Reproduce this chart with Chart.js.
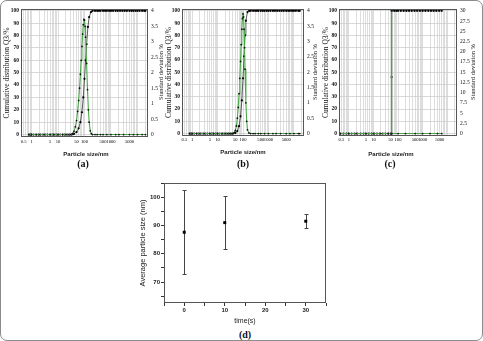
<!DOCTYPE html>
<html><head><meta charset="utf-8">
<script src="https://cdn.jsdelivr.net/npm/chart.js@4.4.0/dist/chart.umd.min.js"></script>
<style>
html,body{margin:0;padding:0;background:#fff;}
#fig{position:relative;width:483px;height:341px;overflow:hidden;background:#fff;}
#frame{position:absolute;left:0;top:0;width:481px;height:339px;border:1px solid #8c8c8c;border-radius:7px;}
canvas{position:absolute;}
.lbl{position:absolute;font-family:"Liberation Serif",serif;font-weight:bold;font-size:10px;line-height:10px;transform:translate(-50%,-50%);white-space:nowrap;color:#111;}
.xt{position:absolute;font-family:"Liberation Sans",sans-serif;font-weight:bold;font-size:6px;line-height:6px;transform:translate(-50%,-50%);white-space:nowrap;color:#222;}
.rt{position:absolute;font-family:"Liberation Serif",serif;font-size:6.5px;line-height:6.5px;transform:translate(-50%,-50%) rotate(-90deg);white-space:nowrap;color:#222;}
</style></head><body>
<div id="fig">
<div id="frame"></div>
<canvas id="ca" width="165" height="158" style="left:0px;top:0px"></canvas>
<canvas id="cb" width="154" height="158" style="left:165px;top:0px"></canvas>
<canvas id="cc" width="156" height="158" style="left:321px;top:0px"></canvas>
<canvas id="cd" width="216" height="149" style="left:134px;top:176px"></canvas>
<div class="rt" style="left:161px;top:72px">Standard deviation %</div>
<div class="rt" style="left:315px;top:72px">Standard deviation %</div>
<div class="rt" style="left:473px;top:72px">Standard deviation %</div>
<div class="xt" style="left:86px;top:154px">Particle size/nm</div>
<div class="xt" style="left:243px;top:152px">Particle size/nm</div>
<div class="xt" style="left:391px;top:154px">Particle size/nm</div>
<div class="lbl" style="left:83px;top:164px">(a)</div>
<div class="lbl" style="left:243px;top:164px">(b)</div>
<div class="lbl" style="left:390px;top:164px">(c)</div>
<div class="lbl" style="left:245px;top:335px">(d)</div>
</div>
<script>
// ---- tick labels ----
const xTickLabels = [0.5, 1, 5, 10, 50, 100, 500, 1000, 5000];
const leftTicks = [0, 10, 20, 30, 40, 50, 60, 70, 80, 90, 100];
const rightTicksAB = [0, 0.5, 1, 1.5, 2, 2.5, 3, 3.5, 4];
const rightTicksC = [0, 2.5, 5, 7.5, 10, 12.5, 15, 17.5, 20, 22.5, 25, 27.5, 30];

// ---- panel (a) ----
const aCumSizes = [0.8,0.9,1,1.2,1.5,1.8,2.2,2.7,3.3,4,5,6,7,8.5,10,12,15,18,22,27,33,40,
  50,60,70,80,90,100,110,120,135,150,175,
  200,250,300,350,400,500,600,700,850,1000,1200,1500,1800,2200,2700,3300,4000,5000,6000,7000,8500,10000,12000,15000,18000,20000];
const aCumValues = [0,0,0,0,0,0,0,0,0,0,0,0,0,0,0,0,0,0,0,0,0,0.5,
  2,5,10,18,30,45,60,73,87,95,99,
  100,100,100,100,100,100,100,100,100,100,100,100,100,100,100,100,100,100,100,100,100,100,100,100,100,100];
const aDistSizes = [0.8,1,1.5,2,3,5,7,10,15,20,25,
  30,35,40,45,50,55,60,65,70,75,80,85,90,95,100,105,110,120,130,140,150,165,180,200,
  250,300,400,500,700,1000,1500,2000,3000,5000,7000,10000,15000,20000];
const aDistValues = [0,0,0,0,0,0,0,0,0,0,0,
  0,0.03,0.1,0.25,0.45,0.75,1.1,1.5,1.95,2.4,2.85,3.25,3.55,3.72,3.7,3.5,3.15,2.3,1.45,0.8,0.4,0.12,0.03,0,
  0,0,0,0,0,0,0,0,0,0,0,0,0,0];

// ---- panel (b) ----
const bCumSizes = [0.8,0.9,1,1.2,1.5,1.8,2.2,2.7,3.3,4,5,6,7,8.5,10,12,15,18,22,27,33,40,
  50,60,70,80,90,100,110,120,130,150,175,
  200,250,300,350,400,500,600,700,850,1000,1200,1500,1800,2200,2700,3300,4000,5000,6000,7000,8500,10000,12000,15000,17000];
const bCumValues = [0,0,0,0,0,0,0,0,0,0,0,0,0,0,0,0,0,0,0,0,0,0,
  0.5,2,6,14,27,45,63,80,92,99,100,
  100,100,100,100,100,100,100,100,100,100,100,100,100,100,100,100,100,100,100,100,100,100,100,100,100];
const bDistSizes = [0.8,1,1.5,2,3,5,7,10,15,20,25,30,35,40,
  45,50,55,60,65,70,75,80,85,90,95,100,105,110,115,120,130,140,150,170,200,
  250,300,400,500,700,1000,1500,2000,3000,5000,7000,10000,15000,17000];
const bDistValues = [0,0,0,0,0,0,0,0,0,0,0,0,0,0,
  0.03,0.1,0.25,0.5,0.85,1.3,1.8,2.35,2.9,3.4,3.75,3.9,3.8,3.4,2.8,2.1,1.0,0.4,0.12,0.02,0,
  0,0,0,0,0,0,0,0,0,0,0,0,0,0];

// ---- panel (c) ----
const cCumSizes = [0.45,0.6,0.8,1,1.3,1.7,2.2,3,4,5,6.5,8.5,11,14,18,24,31,40,50,55,55,55,
  70,85,100,130,170,220,280,360,470,600,780,1000,1300,1700,2200,2800,3600,4700,6000];
const cCumValues = [0,0,0,0,0,0,0,0,0,0,0,0,0,0,0,0,0,0,0,0,46,100,
  100,100,100,100,100,100,100,100,100,100,100,100,100,100,100,100,100,100,100];
const cDistSizes = [0.45,1,2,5,10,20,40,55,55,55,100,200,500,1000,2000,4000,6000];
const cDistValues = [0,0,0,0,0,0,0,0,30,0,0,0,0,0,0,0,0];

// ---- panel (d) ----
const dTime = [0, 10, 30];
const dMean = [87.6, 91.0, 91.5];
const dLow = [72.8, 81.6, 89.0];
const dHigh = [102.4, 100.3, 94.2];
const dXTicks = [-5, 0, 5, 10, 15, 20, 25, 30, 35];
const dXLabels = [0, 10, 20, 30];
const dYTicks = [65, 70, 75, 80, 85, 90, 95, 100, 105];
const dYLabels = [70, 80, 90, 100];

// log grid positions (1..9 per decade)
const xGrid = [];
for (let e = -1; e <= 4; e++) for (let m = 1; m <= 9; m++) {
  const v = +(m * Math.pow(10, e)).toPrecision(2);
  if (v >= 0.4 && v <= 25000) xGrid.push(v);
}

function pts(xs, ys) { return xs.map((x, i) => ({x: x, y: ys[i]})); }
function setTicks(list) { return s => { s.ticks = list.map(v => ({value: v})); }; }

const boxPlugin = {
  id: 'box',
  afterDatasetsDraw(chart) {
    const {ctx, chartArea: a} = chart;
    ctx.save();
    ctx.strokeStyle = '#555';
    ctx.lineWidth = 1;
    const l = Math.round(a.left) + 0.5, t = Math.round(a.top) + 0.5;
    const r = Math.round(a.right) - 0.5, b = Math.round(a.bottom) - 0.5;
    ctx.strokeRect(l, t, r - l, b - t);
    ctx.restore();
  }
};

const serif = "'Liberation Serif', serif";
const sans = "'Liberation Sans', Arial, sans-serif";
const YMIN = -2, YMAX = 101.5;

function psd(id, c) {
  const rmax = c.rtop * YMAX / 100, rmin = c.rtop * YMIN / 100;
  new Chart(document.getElementById(id), {
    type: 'scatter',
    data: { datasets: [
      { data: pts(c.distX, c.distY), yAxisID: 'y1', showLine: true, borderColor: '#4aa84a', borderWidth: 1.1,
        pointRadius: 0.9, pointBackgroundColor: '#111', pointBorderWidth: 0, pointHoverRadius: 0 },
      { data: pts(c.cumX, c.cumY), yAxisID: 'y', showLine: true, borderColor: '#333', borderWidth: 0.8,
        pointRadius: 1.1, pointBackgroundColor: '#000', pointBorderWidth: 0, pointHoverRadius: 0 }
    ]},
    options: {
      responsive: false, animation: false, events: [],
      layout: { padding: { top: 9, left: 0, right: 0, bottom: 0 } },
      plugins: { legend: { display: false }, tooltip: { enabled: false } },
      scales: {
        x: { type: 'logarithmic', min: 0.4, max: 25000,
          afterBuildTicks: setTicks(xGrid), afterFit: s => { s.height = c.xh; },
          grid: { color: '#d4d4d4', lineWidth: 0.8, drawTicks: false }, border: { display: false },
          ticks: { autoSkip: false, maxRotation: 0, minRotation: 0, padding: c.xpad, color: '#000',
            font: { family: serif, size: 4.6 },
            callback: v => xTickLabels.includes(v) ? String(v) : '' } },
        y: { position: 'left', min: YMIN, max: YMAX,
          afterBuildTicks: setTicks(leftTicks), afterFit: s => { s.width = c.lw; },
          grid: { color: '#cfcfcf', lineWidth: 0.8, drawTicks: false }, border: { display: false },
          ticks: { padding: 2, color: '#111', font: { family: serif, size: 5.5, weight: 'bold' }, callback: v => String(v) },
          title: { display: true, text: 'Cumulative distribution Q3/%', color: '#111',
            font: { family: serif, size: 7.5 }, padding: { top: c.ltp, bottom: 0 } } },
        y1: { position: 'right', min: rmin, max: rmax,
          afterBuildTicks: setTicks(c.rticks), afterFit: s => { s.width = c.rw; },
          grid: { drawOnChartArea: false, drawTicks: false }, border: { display: false },
          ticks: { padding: 3, color: '#111', font: { family: serif, size: 5.5 }, callback: v => String(v) } }
      }
    },
    plugins: [boxPlugin]
  });
}

psd('ca', { distX: aDistSizes, distY: aDistValues, cumX: aCumSizes, cumY: aCumValues,
  xh: 21, xpad: 2.4, lw: 21, rw: 17, ltp: 2.5, rtop: 4, rticks: rightTicksAB });
psd('cb', { distX: bDistSizes, distY: bDistValues, cumX: bCumSizes, cumY: bCumValues,
  xh: 22, xpad: 1.2, lw: 17, rw: 15, ltp: 0, rtop: 4, rticks: rightTicksAB });
psd('cc', { distX: cDistSizes, distY: cDistValues, cumX: cCumSizes, cumY: cCumValues,
  xh: 22, xpad: 1.2, lw: 18, rw: 20, ltp: 0.5, rtop: 30, rticks: rightTicksC });

const errPlugin = {
  id: 'err',
  beforeDatasetsDraw(chart) {
    const x = chart.scales.x, y = chart.scales.y, ctx = chart.ctx;
    ctx.save();
    ctx.strokeStyle = '#444';
    ctx.lineWidth = 1;
    dTime.forEach((t, i) => {
      const px = Math.round(x.getPixelForValue(t)) + 0.5;
      const y1 = Math.round(y.getPixelForValue(dLow[i])) + 0.5;
      const y2 = Math.round(y.getPixelForValue(dHigh[i])) + 0.5;
      ctx.beginPath();
      ctx.moveTo(px, y1); ctx.lineTo(px, y2);
      ctx.moveTo(px - 2, y1); ctx.lineTo(px + 2, y1);
      ctx.moveTo(px - 2, y2); ctx.lineTo(px + 2, y2);
      ctx.stroke();
    });
    ctx.restore();
  }
};

new Chart(document.getElementById('cd'), {
  type: 'scatter',
  data: { datasets: [{ data: pts(dTime, dMean), pointStyle: 'rect', pointRadius: 2.1,
    pointBackgroundColor: '#000', pointBorderColor: '#000', pointBorderWidth: 0, pointHoverRadius: 0 }] },
  options: {
    responsive: false, animation: false, events: [],
    layout: { padding: { top: 7, right: 24, left: 0, bottom: 0 } },
    plugins: { legend: { display: false }, tooltip: { enabled: false } },
    scales: {
      x: { type: 'linear', min: -5, max: 35, afterBuildTicks: setTicks(dXTicks), afterFit: s => { s.height = 22; },
        grid: { drawOnChartArea: false, drawTicks: true, tickLength: 3, tickColor: '#333' }, border: { display: false },
        ticks: { padding: 1, color: '#222', font: { family: sans, size: 6, weight: 'bold' },
          callback: v => dXLabels.includes(v) ? String(v) : '' },
        title: { display: true, text: 'time(s)', color: '#222', font: { family: sans, size: 7 }, padding: 0 } },
      y: { min: 62.6, max: 105, afterBuildTicks: setTicks(dYTicks), afterFit: s => { s.width = 30; },
        grid: { drawOnChartArea: false, drawTicks: true, tickLength: 3, tickColor: '#333' }, border: { display: false },
        ticks: { padding: 1, color: '#222', font: { family: sans, size: 6, weight: 'bold' },
          callback: v => dYLabels.includes(v) ? String(v) : '' },
        title: { display: true, text: 'Average particle size (nm)', color: '#222', font: { family: sans, size: 7.5 },
          padding: { top: 4.5, bottom: 0 } } }
    }
  },
  plugins: [boxPlugin, errPlugin]
});
</script>
</body></html>
